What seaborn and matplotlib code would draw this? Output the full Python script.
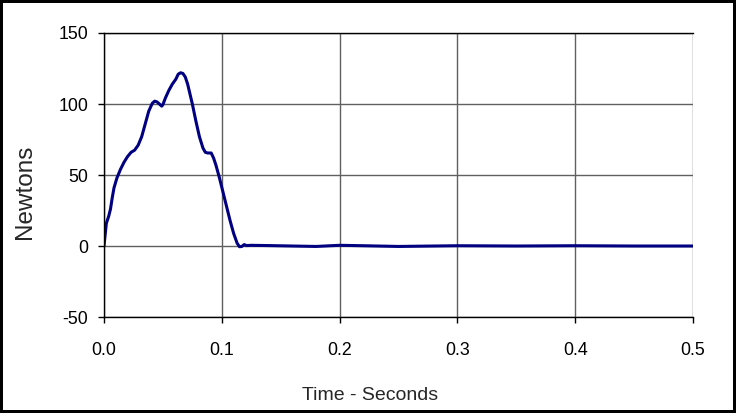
import matplotlib
matplotlib.use('Agg')
import matplotlib.pyplot as plt
import pandas as pd
import seaborn as sns

# force trace
time_s = [0.000, 0.002, 0.004, 0.0055, 0.007, 0.0085, 0.011, 0.014, 0.017, 0.020,
          0.023, 0.026, 0.029, 0.032, 0.035, 0.038, 0.041, 0.043, 0.045, 0.047,
          0.049, 0.050, 0.052, 0.055, 0.058, 0.061, 0.063, 0.065, 0.067, 0.069,
          0.071, 0.073, 0.075, 0.078, 0.081, 0.084, 0.086, 0.088, 0.091, 0.093,
          0.095, 0.098, 0.101, 0.104, 0.107, 0.110, 0.113, 0.115, 0.117, 0.119,
          0.121, 0.125, 0.14, 0.16, 0.18, 0.20, 0.22, 0.25, 0.28, 0.30, 0.35,
          0.40, 0.45, 0.50]
force_n = [0, 16, 21, 26, 34, 41, 48, 54, 59, 63,
           66, 67.5, 71, 77, 86, 95, 100.5, 102, 101.5, 100,
           98.5, 99.5, 104, 109.5, 114, 117.5, 121, 122, 121.5, 119,
           114, 107, 100, 88, 77, 69, 66, 65.5, 65.5, 62,
           57, 48, 38, 28, 18, 9, 2, -0.5, -0.3, 1,
           0.3, 0.5, 0.3, 0, -0.3, 0.5, 0.2, -0.3, 0, 0.2, 0,
           0.2, 0, 0]

x_ticks = [0.0, 0.1, 0.2, 0.3, 0.4, 0.5]
y_ticks = [-50, 0, 50, 100, 150]

df = pd.DataFrame({'t': time_s, 'f': force_n})

sns.set_style('white')
plt.rcParams['font.family'] = ['Liberation Sans', 'DejaVu Sans']

fig = plt.figure(figsize=(7.36, 4.13), dpi=100, edgecolor='black', linewidth=3)
ax = fig.add_axes([0.1413, 0.2324, 0.8003, 0.6877])

sns.lineplot(data=df, x='t', y='f', color='#000080', linewidth=2.2, ax=ax)

ax.set_xlim(0, 0.5)
ax.set_ylim(-50, 150)
ax.set_xticks(x_ticks)
ax.set_xticklabels([f'{v:.1f}' for v in x_ticks])
ax.set_yticks(y_ticks)
ax.set_yticklabels([str(v) for v in y_ticks])

ax.grid(True, color='#606060', linewidth=1)
ax.set_axisbelow(True)
for side in ['left', 'bottom', 'top']:
    ax.spines[side].set_color('black')
    ax.spines[side].set_linewidth(1)
ax.spines['right'].set_visible(False)

ax.tick_params(axis='both', direction='out', length=4.3, width=1, color='black',
               labelsize=12.8, labelcolor='black')
ax.tick_params(axis='x', pad=13.5, bottom=True)
ax.tick_params(axis='y', pad=7, left=True)

ax.set_xlabel('')
ax.set_ylabel('')
fig.text(370 / 736, 1 - 396 / 413, 'Time - Seconds', fontsize=14,
         ha='center', va='center')
fig.text(25 / 736, 1 - 192 / 413, 'Newtons', fontsize=17.5,
         rotation=90, ha='center', va='center')

fig.savefig('out.png', dpi=100, edgecolor=fig.get_edgecolor())
